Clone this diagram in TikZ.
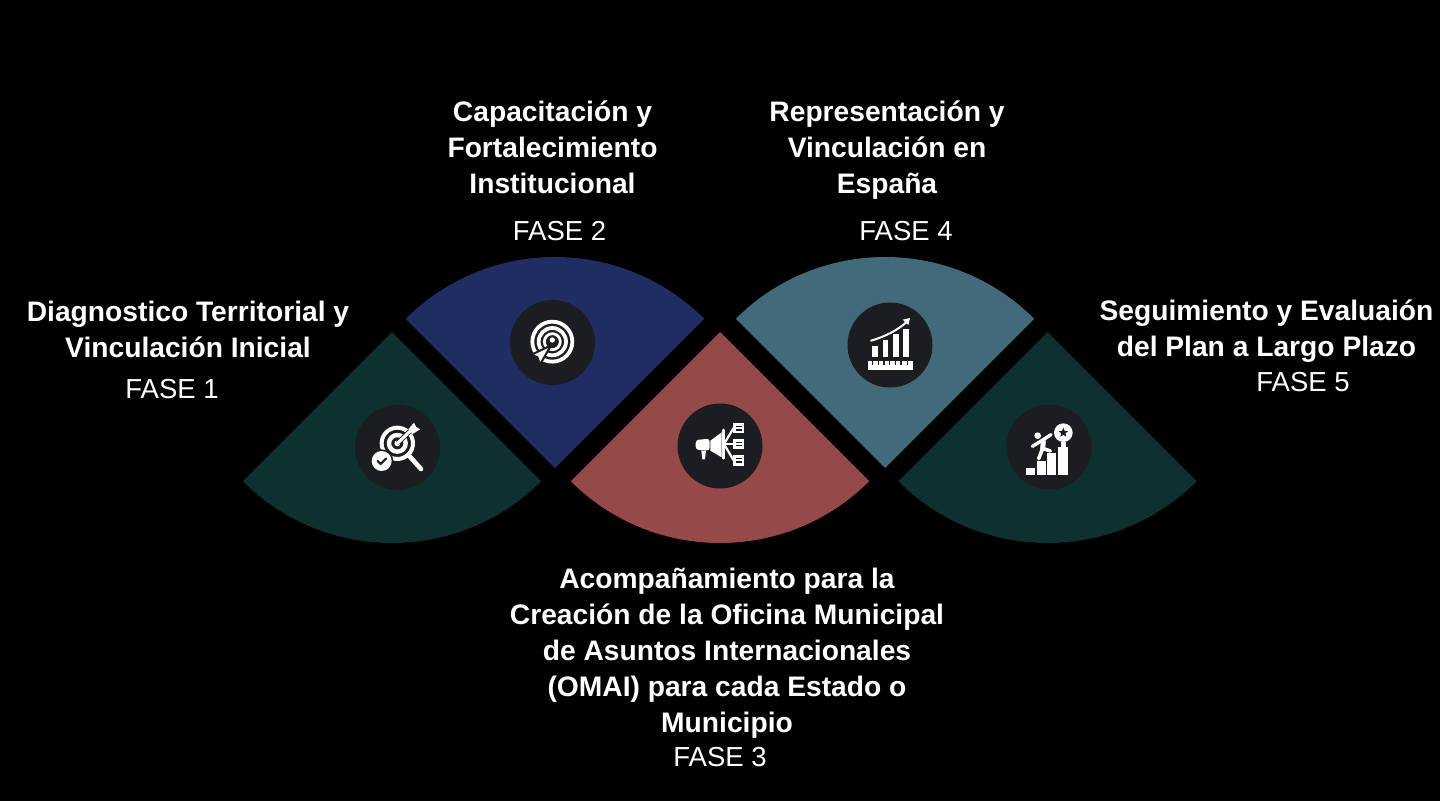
\documentclass[tikz,border=0pt]{standalone}
\usepackage{fontspec}
\setmainfont{Liberation Sans}
\definecolor{tealdark}{HTML}{0D3030}
\definecolor{navy}{HTML}{1F2D63}
\definecolor{brick}{HTML}{964949}
\definecolor{steel}{HTML}{436A7A}
\definecolor{disc}{HTML}{1C1D20}
\tikzset{
  title/.style={text=white,align=center,inner sep=0pt,font=\fontsize{28.2}{36}\selectfont\bfseries},
  phase/.style={text=white,inner sep=0pt,font=\fontsize{27.5}{32}\selectfont},
  icondisc/.style={fill=disc,draw=none,circle,minimum size=85pt,inner sep=0pt},
  wl/.style={draw=white,line cap=round,line join=round},
  dl/.style={draw=disc,line cap=round,line join=round},
  zoomed/.style={x=0.33333pt,y=-0.33333pt}
}
\newcommand{\sectorup}[3]{\fill[#1] (#2,#3) -- ++(225:211pt) arc[start angle=225,end angle=315,radius=211pt] -- cycle;}
\newcommand{\sectordown}[3]{\fill[#1] (#2,#3) -- ++(135:211pt) arc[start angle=135,end angle=45,radius=211pt] -- cycle;}
\begin{document}
\begin{tikzpicture}[x=1pt,y=-1pt]
\useasboundingbox (0,0) rectangle (1440,801);
\fill[black] (0,0) rectangle (1440,801);
\sectorup{tealdark}{392}{332}
\sectordown{navy}{555}{468}
\sectorup{brick}{720}{332}
\sectordown{steel}{885}{468}
\sectorup{tealdark}{1047.5}{332}
\node[icondisc] (d1) at (397.5,447.5) {};
\node[icondisc] (d2) at (552.5,342.5) {};
\node[icondisc] (d3) at (720,446) {};
\node[icondisc] (d4) at (890,345) {};
\node[icondisc] (d5) at (1049,447) {};
% icon 1
\begin{scope}[shift={(340,400)},zoomed]
\draw[wl,line width=4pt] (172,130) circle[radius=47];
\draw[wl,line width=4.4pt] (172,130) circle[radius=25];
\fill[white] (172,130) circle[radius=9];
\draw[dl,line width=5pt] (176,126) -- (215,89);
\draw[wl,line width=3.2pt] (172,130) -- (212,92);
\fill[white] (205,88) -- (222,68) -- (228,80) -- (240,88) -- (218,102) -- cycle;
\draw[wl,line width=4.6pt] (208,168) -- (243,207);
\fill[disc] (125,183) circle[radius=35];
\fill[white] (125,183) circle[radius=30];
\draw[dl,line width=2.2pt] (113,183) -- (122,192) -- (138,176);
\end{scope}
% icon 2
\begin{scope}[shift={(495,290)},zoomed]
\draw[wl,line width=3.8pt] (172,155) circle[radius=60];
\draw[wl,line width=3.8pt] (172,155) circle[radius=41];
\draw[wl,line width=2.8pt] (172,155) circle[radius=24];
\fill[white] (172,150) circle[radius=8];
\draw[dl,line width=2pt,fill=white] (168,166) -- (108,195) -- (127,201) -- (135,224) -- cycle;
\end{scope}
% icon 3
\begin{scope}[shift={(665,400)},zoomed]
\fill[white,rounded corners=3pt] (134,116) -- (92,120) -- (92,149) -- (134,152) -- cycle;
\fill[white] (136,122) -- (170,97) -- (170,172) -- (136,152) -- cycle;
\fill[white] (109,152) -- (123,152) -- (120,178) -- (112,178) -- cycle;
\draw[wl,line width=2.6pt] (175,90) -- (175,175);
\draw[wl,line width=2.2pt] (177,132) -- (205,85);
\draw[wl,line width=2.2pt] (177,132) -- (205,132);
\draw[wl,line width=2.2pt] (177,132) -- (205,180);
\fill[white] (203,70) rectangle (237,100);
\fill[white] (203,117) rectangle (237,148);
\fill[white] (203,165) rectangle (237,197);
\draw[dl,line width=1.3pt,line cap=butt] (212,80) -- (230,80) (212,90) -- (230,90) (212,127) -- (230,127) (212,137) -- (230,137) (212,176) -- (230,176) (212,186) -- (230,186);
\end{scope}
% icon 4
\begin{scope}[shift={(835,295)},zoomed]
\fill[white] (112,153) rectangle (129,185);
\fill[white] (143,135) rectangle (160,185);
\fill[white] (174,118) rectangle (191,185);
\fill[white] (205,102) rectangle (222,185);
\fill[white] (98,198) rectangle (235,226);
\draw[disc,line width=1.2pt] (113,197) -- (113,211) (130,197) -- (130,211) (147,197) -- (147,211) (164,197) -- (164,211) (181,197) -- (181,211) (198,197) -- (198,211) (217,197) -- (217,211);
\draw[wl,line width=2pt] (108,137) .. controls (150,125) and (190,105) .. (218,78);
\fill[white] (225,69) -- (203,74) -- (220,90) -- cycle;
\end{scope}
% icon 5
\begin{scope}[shift={(995,400)},zoomed]
\fill[white] (93,205) rectangle (121,224);
\fill[white] (125,183) rectangle (153,224);
\fill[white] (156,160) rectangle (184,224);
\fill[white] (188,140) rectangle (220,224);
\fill[white] (197,126) rectangle (213,140);
\fill[white] (205,98) circle[radius=28];
\fill[disc] (205,83) -- (208.8,92.7) -- (219.3,93.4) -- (211.2,100) -- (213.8,110.1) -- (205,104.5) -- (196.2,110.1) -- (198.8,100) -- (190.7,93.4) -- (201.2,92.7) -- cycle;
\fill[white] (128,107) circle[radius=10];
\draw[wl,line width=3.4pt] (112,139) -- (140,122) -- (168,104);
\draw[wl,line width=5pt] (145,124) -- (143,145);
\draw[wl,line width=3.6pt] (143,145) -- (131,176);
\draw[wl,line width=3.6pt] (143,145) -- (166,153);
\end{scope}
% texts
\node[title] (t1) at (188,329) {Diagnostico Territorial y\\Vinculación Inicial};
\node[phase] (f1) at (172,389) {FASE 1};
\node[title] (t2) at (552.5,147.5) {Capacitación y\\Fortalecimiento\\Institucional};
\node[phase] (f2) at (559.5,231) {FASE 2};
\node[title] (t3) at (727,653) {Acompañamiento para la\\Creación de la Oficina Municipal\\de Asuntos Internacionales\\(OMAI) para cada Estado o\\Municipio};
\node[phase] (f3) at (720,757) {FASE 3};
\node[title] (t4) at (887,150) {Representación y\\Vinculación en\\España};
\node[phase] (f4) at (906,231) {FASE 4};
\node[title] (t5) at (1266.5,331.5) {Seguimiento y Evaluaión\\del Plan a Largo Plazo};
\node[phase] (f5) at (1303,382) {FASE 5};
\end{tikzpicture}
\end{document}
